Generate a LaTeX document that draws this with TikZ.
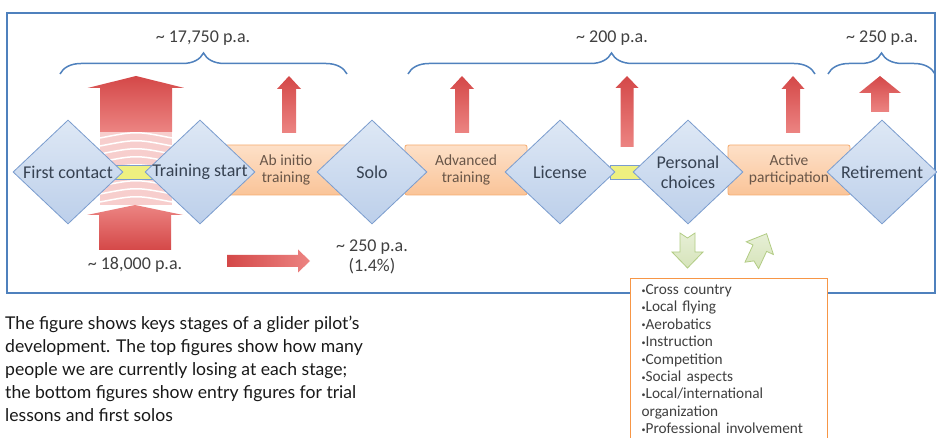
\documentclass[tikz,border=0pt]{standalone}
\usepackage{fontspec}
\setmainfont{Carlito}
\newfontfamily\captionfont{Lato}
\usepackage{tikz}
\usetikzlibrary{shapes.geometric,decorations.pathreplacing,positioning}

\definecolor{frameblue}{RGB}{79,129,189}
\definecolor{diafill}{RGB}{188,207,234}
\definecolor{diafilltop}{RGB}{222,232,245}
\definecolor{diaborder}{RGB}{122,156,206}
\definecolor{diatext}{RGB}{55,66,82}
\definecolor{barfill}{RGB}{250,196,152}
\definecolor{barfilltop}{RGB}{253,224,200}
\definecolor{barborder}{RGB}{246,172,112}
\definecolor{bartext}{RGB}{105,86,72}
\definecolor{lossred}{RGB}{212,72,72}
\definecolor{losspink}{RGB}{236,132,130}
\definecolor{linkyellow}{RGB}{238,240,128}
\definecolor{choicegreen}{RGB}{214,228,186}
\definecolor{choiceborder}{RGB}{178,204,132}
\definecolor{listorange}{RGB}{247,150,70}
\definecolor{labelgray}{RGB}{64,64,64}

% up arrow: style, centre x, tip, head base, bottom, shaft half, head half
\newcommand{\uparrowshape}[7]{%
  \path[#1] (#2-#6,#5) -- (#2-#6,#4) -- (#2-#7,#4) -- (#2,#3)
    -- (#2+#7,#4) -- (#2+#6,#4) -- (#2+#6,#5) -- cycle;}
\newcommand{\bul}{\raisebox{1.5pt}{\fontsize{8}{8}\selectfont•}}

\begin{document}
\begin{tikzpicture}[x=1pt, y=-1pt,
	stage/.style={diamond, draw=diaborder, line width=0.8pt, top color=diafilltop, bottom color=diafill, minimum width=110pt, minimum height=104pt, inner sep=0pt},
	stagetext/.style={font=\fontsize{18}{20}\selectfont, text=diatext, align=center},
	phase/.style={draw=barborder, line width=0.8pt, rounded corners=2pt, top color=barfilltop, bottom color=barfill, minimum width=122pt, minimum height=50pt, inner sep=0pt, font=\fontsize{15.5}{17.5}\selectfont, text=bartext, align=center},
	link/.style={draw=diaborder, fill=linkyellow, minimum height=14pt, inner sep=0pt},
	loss/.style={top color=lossred, bottom color=losspink},
	entryloss/.style={top color=losspink, bottom color=lossred},
	count/.style={font=\fontsize{18}{20}\selectfont, text=labelgray, align=center},
	span/.style={draw=frameblue, line width=1.5pt, decorate, decoration={brace, amplitude=21pt}},
	choice/.style={draw=choiceborder, line width=0.8pt, top color=choicegreen!60, bottom color=choicegreen},
	listbox/.style={draw=listorange, line width=1.2pt, fill=white, align=left, text width=175pt, inner xsep=11pt, inner ysep=6pt, font=\fontsize{15.3}{17.4}\selectfont, text=labelgray},
	captiontext/.style={font=\captionfont\fontsize{17.6}{23}\selectfont, text={rgb,255:red,25;green,25;blue,25}, align=left, inner sep=5pt}
]
\useasboundingbox (0,0) rectangle (937,438);
\clip (0,0) rectangle (937,438);
\fill[white] (0,0) rectangle (937,438);

% frame
\draw[frameblue, line width=1.8pt] (7,13) rectangle (935,293);

% band between the big arrows
\fill[losspink!40] (100,132) rectangle (172,205);
\foreach \y in {138,146,...,202}
	\draw[white, line width=1.5pt] (100,\y) .. controls (136,\y-7) .. (172,\y);

% phases and links
\node[phase] (abinitio) at (286,170) {Ab initio\\training};
\node[phase] (advanced) at (466,170) {Advanced\\training};
\node[phase] (active) at (789,170) {Active\\participation};
\node[link, minimum width=45pt] (contactlink) at (132,172) {};
\node[link, minimum width=30pt] (licenselink) at (625,172) {};

% stages
\node[stage, label={[stagetext]center:First contact}] (first) at (68,172) {};
\node[stage, label={[stagetext]center:Training start}] (start) at (200,172) {};
\node[stage, label={[stagetext]center:Solo}] (solo) at (372,172) {};
\node[stage, label={[stagetext]center:License}] (license) at (560,172) {};
\node[stage, label={[stagetext]center:{Personal\\choices}}] (choices) at (688,172) {};
\node[stage, label={[stagetext]center:Retirement}] (retire) at (882,172) {};

% losses
\uparrowshape{loss}{136}{76}{88}{132}{36}{48.5}
\uparrowshape{loss}{289}{76}{89}{133}{7}{12}
\uparrowshape{loss}{462}{76}{89}{133}{7}{12}
\uparrowshape{loss}{627}{76}{88}{147}{6.5}{11.5}
\uparrowshape{loss}{793}{76}{89}{133}{7}{11.5}
\uparrowshape{loss}{880}{76}{93}{112}{9}{21}
\uparrowshape{entryloss}{135}{205}{215}{250}{36}{48}
\path[left color=lossred, right color=losspink] (227,255) -- (298,255) -- (298,249.5) -- (310,261)
	-- (298,272.5) -- (298,267) -- (227,267) -- cycle;

% counts
\node[count] (losstrain) at (203,38) {\textasciitilde{} 17,750 p.a.};
\node[count] (losslicense) at (612,38) {\textasciitilde{} 200 p.a.};
\node[count] (lossretire) at (882,38) {\textasciitilde{} 250 p.a.};
\node[count] (entries) at (135,265) {\textasciitilde{} 18,000 p.a.};
\node[count] (solos) at (372,257) {\textasciitilde{} 250 p.a.\\(1.4\%)};
\draw[span] (60,74) -- (347,74);
\draw[span] (408,74) -- (815,74);
\draw[span] (828,74) -- (935,74);

% choices
\path[choice] (680,233) -- (687.5,238) -- (695,233) -- (695,252) -- (703,252) -- (687.5,268)
	-- (672,252) -- (680,252) -- cycle;
\begin{scope}[shift={(759,250)}]
	\path[choice] (-14,12.2) -- (-5.1,10.9) -- (-0.4,18.6) -- (7.6,1.4) -- (14.4,4.5) -- (7.6,-16.3)
		-- (-12.7,-8.2) -- (-6,-5) -- cycle;
\end{scope}
\node[listbox, anchor=north west] (activities) at (630,278) {\bul Cross country\\\bul Local flying\\\bul Aerobatics\\\bul Instruction\\\bul Competition\\\bul Social aspects\\\bul Local/international\\organization\\\bul Professional involvement};

% caption
\node[captiontext, anchor=north west] (caption) at (0,311) {The figure shows keys stages of a glider pilot’s\\development. The top figures show how many\\people we are currently losing at each stage;\\the bottom figures show entry figures for trial\\lessons and first solos};
\end{tikzpicture}
\end{document}
